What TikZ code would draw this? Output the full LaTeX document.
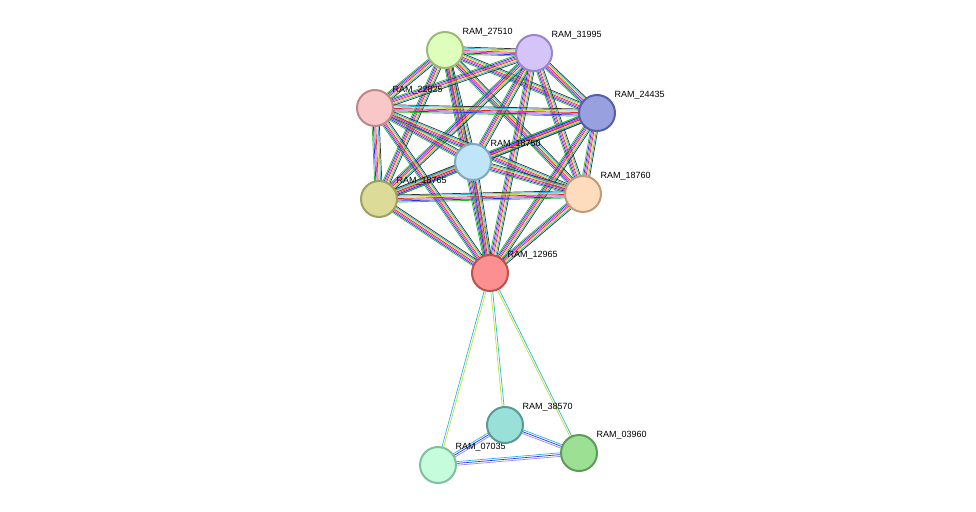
\documentclass[tikz,border=0pt]{standalone}
\usepackage{fontspec}
\setmainfont{Liberation Sans}
\usetikzlibrary{calc,backgrounds}

\definecolor{eGreen}{HTML}{22BB22}
\definecolor{eBlue}{HTML}{2233EE}
\definecolor{eRed}{HTML}{EE2222}
\definecolor{eMag}{HTML}{DD33DD}
\definecolor{eCyan}{HTML}{22B8E0}
\definecolor{eYel}{HTML}{C8DC30}
\definecolor{eLav}{HTML}{9988EE}
\definecolor{eBlk}{HTML}{333333}

\tikzset{
  prot/.style={circle, minimum size=36pt, inner sep=0pt, line width=2pt},
  lbl/.style={font=\fontsize{9}{10}\selectfont, inner sep=0pt, xshift=4pt, text=black},
  link/.style={line width=0.7pt},
}

% bundle of coloured lines between two nodes
\newcommand\linkset[3]{%
  \foreach \c/\o in #3{%
    \draw[link,\c] ($(#1.center)!\o pt!90:(#2.center)$) -- ($(#2.center)!\o pt!-90:(#1.center)$);
  }%
}
\def\fullset{eGreen/-3.6,eBlue/-2.4,eMag/-1.2,eRed/0,eYel/1.2,eCyan/2.4,eBlk/3.6}

\begin{document}
\begin{tikzpicture}[x=1pt,y=-1pt]
\useasboundingbox (0,0) rectangle (976,511);

% upper cluster
\node[prot, fill={rgb,255:red,221;green,255;blue,187}, draw={rgb,255:red,153;green,187;blue,119},
      label={[lbl,anchor=south west]45:RAM\_27510}] (n27510) at (445,50) {};
\node[prot, fill={rgb,255:red,212;green,196;blue,248}, draw={rgb,255:red,154;green,133;blue,204},
      label={[lbl,anchor=south west]45:RAM\_31995}] (n31995) at (534,53) {};
\node[prot, fill={rgb,255:red,248;green,200;blue,200}, draw={rgb,255:red,192;green,136;blue,136},
      label={[lbl,anchor=south west]45:RAM\_22825}] (n22825) at (375,108) {};
\node[prot, fill={rgb,255:red,152;green,160;blue,224}, draw={rgb,255:red,85;green,96;blue,168},
      label={[lbl,anchor=south west]45:RAM\_24435}] (n24435) at (597,113) {};
\node[prot, fill={rgb,255:red,220;green,220;blue,152}, draw={rgb,255:red,160;green,160;blue,96},
      label={[lbl,anchor=south west]45:RAM\_18765}] (n18765) at (379,199) {};
\node[prot, fill={rgb,255:red,192;green,228;blue,248}, draw={rgb,255:red,128;green,168;blue,192},
      label={[lbl,anchor=south west]45:RAM\_18750}] (n18750) at (473,162) {};
\node[prot, fill={rgb,255:red,252;green,220;blue,188}, draw={rgb,255:red,192;green,156;blue,120},
      label={[lbl,anchor=south west]45:RAM\_18760}] (n18760) at (583,194) {};
\node[prot, fill={rgb,255:red,252;green,144;blue,144}, draw={rgb,255:red,192;green,80;blue,80},
      label={[lbl,anchor=south west]45:RAM\_12965}] (n12965) at (490,273) {};

% lower triangle
\node[prot, fill={rgb,255:red,196;green,252;blue,220}, draw={rgb,255:red,128;green,192;blue,160},
      label={[lbl,anchor=south west]45:RAM\_07035}] (n07035) at (438,465) {};
\node[prot, fill={rgb,255:red,152;green,224;blue,216}, draw={rgb,255:red,90;green,154;blue,148},
      label={[lbl,anchor=south west]45:RAM\_38570}] (n38570) at (505,425) {};
\node[prot, fill={rgb,255:red,156;green,224;blue,148}, draw={rgb,255:red,92;green,156;blue,88},
      label={[lbl,anchor=south west]45:RAM\_03960}] (n03960) at (579,453) {};

\begin{pgfonlayer}{background}
  \foreach \a [count=\i] in {n27510,n31995,n22825,n24435,n18765,n18750,n18760,n12965}{
    \foreach \b [count=\j] in {n27510,n31995,n22825,n24435,n18765,n18750,n18760,n12965}{
      \ifnum\j>\i \linkset{\a}{\b}{\fullset}\fi
    }
  }
  \linkset{n12965}{n07035}{{eCyan/-0.9,eYel/0.9}}
  \linkset{n12965}{n38570}{{eYel/-0.9,eCyan/0.9}}
  \linkset{n12965}{n03960}{{eYel/-0.9,eCyan/0.9}}
  \linkset{n07035}{n38570}{{eLav/-1.8,eBlue/0,eCyan/1.8}}
  \linkset{n07035}{n03960}{{eLav/-1.8,eBlue/0,eCyan/1.8}}
  \linkset{n38570}{n03960}{{eLav/-1.8,eBlue/0,eCyan/1.8}}
\end{pgfonlayer}
\end{tikzpicture}
\end{document}
